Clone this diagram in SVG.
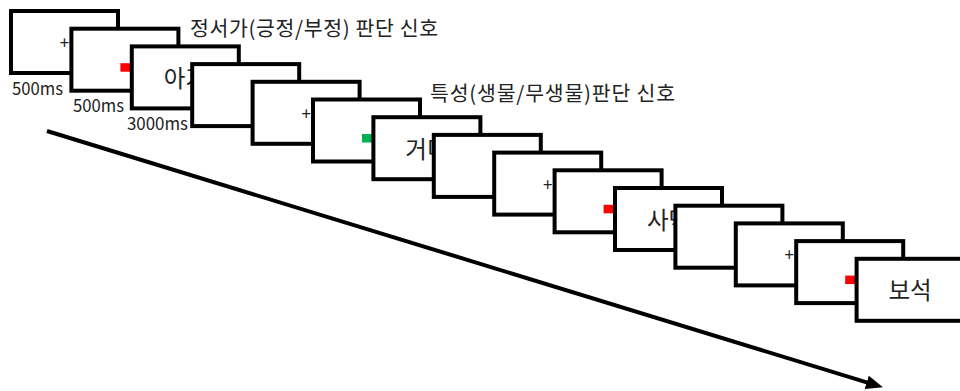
<svg xmlns="http://www.w3.org/2000/svg" width="960" height="391" viewBox="0 0 960 391">
<style>
.box{fill:#fff;stroke:#000;stroke-width:4}
.t{font-family:"Noto Sans CJK KR","Noto Sans",sans-serif;fill:#222}
.w{font-size:23.5px;text-anchor:middle}
.p{font-size:17px;text-anchor:middle}
.ms{font-size:17.5px}
.h{font-size:20.5px}
.red{fill:#ff0000}
.grn{fill:#00b050}
</style>
<defs>
<marker id="ah" markerUnits="userSpaceOnUse" markerWidth="18" markerHeight="14" refX="6" refY="7" orient="auto">
<path d="M0,0 L17,7 L0,14 z" fill="#000"/>
</marker>
</defs>
<g id="connectors">
<path d="M47,131 L872.4,384.1" stroke="#000" stroke-width="4" fill="none" marker-end="url(#ah)"/>
</g>
<g id="labels">
<text class="t ms" x="12" y="95" textLength="51" lengthAdjust="spacingAndGlyphs">500ms</text>
<text class="t ms" x="73" y="112" textLength="51" lengthAdjust="spacingAndGlyphs">500ms</text>
<text class="t ms" x="127" y="130" textLength="61" lengthAdjust="spacingAndGlyphs">3000ms</text>
<text class="t h" x="190" y="36" textLength="248" lengthAdjust="spacing">정서가(긍정/부정) 판단 신호</text>
<text class="t h" x="430" y="101" textLength="245" lengthAdjust="spacing">특성(생물/무생물)판단 신호</text>
</g>
<g id="s1" transform="translate(9,9)"><rect class="box" x="2" y="2" width="107" height="62"/><text class="t p" x="55.5" y="40">+</text></g>
<g id="s2" transform="translate(69.4,26.7)"><rect class="box" x="2" y="2" width="107" height="62"/><rect class="red" x="51" y="36.5" width="10" height="8.5"/></g>
<g id="s3" transform="translate(129.8,44.4)"><rect class="box" x="2" y="2" width="107" height="62"/><text class="t w" x="55.5" y="42.5">아기</text></g>
<g id="s4" transform="translate(190.2,62.1)"><rect class="box" x="2" y="2" width="107" height="62"/></g>
<g id="s5" transform="translate(250.6,79.8)"><rect class="box" x="2" y="2" width="107" height="62"/><text class="t p" x="55.5" y="40">+</text></g>
<g id="s6" transform="translate(311,97.5)"><rect class="box" x="2" y="2" width="107" height="62"/><rect class="grn" x="51" y="36.5" width="10" height="8.5"/></g>
<g id="s7" transform="translate(371.4,115.2)"><rect class="box" x="2" y="2" width="107" height="62"/><text class="t w" x="55.5" y="42.5">거미</text></g>
<g id="s8" transform="translate(431.8,132.9)"><rect class="box" x="2" y="2" width="107" height="62"/></g>
<g id="s9" transform="translate(492.2,150.6)"><rect class="box" x="2" y="2" width="107" height="62"/><text class="t p" x="55.5" y="40">+</text></g>
<g id="s10" transform="translate(552.6,168.3)"><rect class="box" x="2" y="2" width="107" height="62"/><rect class="red" x="51" y="36.5" width="10" height="8.5"/></g>
<g id="s11" transform="translate(613,186)"><rect class="box" x="2" y="2" width="107" height="62"/><text class="t w" x="55.5" y="42.5">사막</text></g>
<g id="s12" transform="translate(673.4,203.7)"><rect class="box" x="2" y="2" width="107" height="62"/></g>
<g id="s13" transform="translate(733.8,221.4)"><rect class="box" x="2" y="2" width="107" height="62"/><text class="t p" x="55.5" y="40">+</text></g>
<g id="s14" transform="translate(794.2,239.1)"><rect class="box" x="2" y="2" width="107" height="62"/><rect class="red" x="51" y="36.5" width="10" height="8.5"/></g>
<g id="s15" transform="translate(854.6,256.8)"><rect class="box" x="2" y="2" width="107" height="62"/><text class="t w" x="55.5" y="42.5">보석</text></g>
</svg>
